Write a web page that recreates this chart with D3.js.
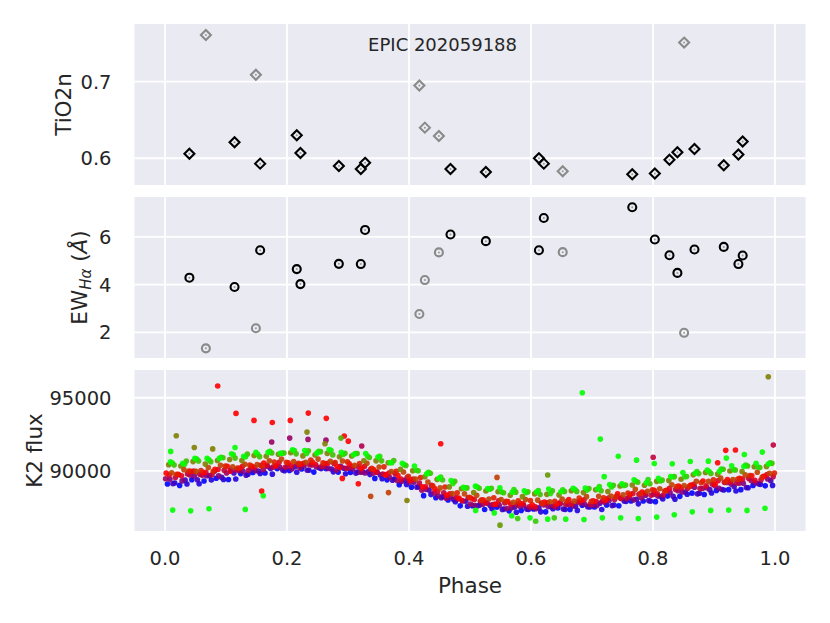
<!DOCTYPE html>
<html><head><meta charset="utf-8">
<script src="https://cdn.jsdelivr.net/npm/d3@7"></script>
<style>
body{margin:0;background:#fff}
text{font-family:"DejaVu Sans",sans-serif;fill:#262626}
</style>
</head><body>
<svg id="chart" width="830" height="623"></svg>
<script>
// ---------------- data ----------------
const starName = "EPIC 202059188";
const xTicks = [0.0, 0.2, 0.4, 0.6, 0.8, 1.0];
const tioTicks = [0.6, 0.7];
const ewTicks = [2, 4, 6];
const fluxTicks = [90000, 95000];

// spectra: phase, TiO2n index, H-alpha EW, 1 = used / 0 = rejected (grey)
const specPhase = [0.040,0.067,0.114,0.149,0.156,0.216,0.222,0.285,0.321,0.328,0.417,0.426,0.449,0.468,0.526,0.613,0.621,0.652,0.766,0.803,0.827,0.840,0.851,0.868,0.916,0.940,0.947];
const tio2n    = [0.606,0.761,0.621,0.709,0.593,0.630,0.607,0.590,0.586,0.594,0.695,0.640,0.629,0.586,0.582,0.600,0.593,0.583,0.579,0.580,0.598,0.608,0.751,0.612,0.591,0.605,0.622];
const ewHalpha = [4.29,1.33,3.90,2.17,5.44,4.65,4.02,4.87,4.86,6.29,2.77,4.19,5.35,6.10,5.82,5.44,6.79,5.36,7.24,5.89,5.23,4.49,1.98,5.47,5.58,4.86,5.22];
const specGood = [1,0,1,0,1,1,1,1,1,1,0,0,0,1,1,1,1,0,1,1,1,1,0,1,1,1,1];

// K2 light curve, folded; flux in thousands of counts, one array per cycle (colour = time)
const lcGrid = [0.00,0.02,0.04,0.06,0.08,0.10,0.12,0.14,0.16,0.18,0.20,0.22,0.24,0.26,0.28,0.30,0.32,0.34,0.36,0.38,0.40,0.42,0.44,0.46,0.48,0.50,0.52,0.54,0.56,0.58,0.60,0.62,0.64,0.66,0.68,0.70,0.72,0.74,0.76,0.78,0.80,0.82,0.84,0.86,0.88,0.90,0.92,0.94,0.96,0.98];
const cycleTime  = [0, 0.0625, 0.125, 0.25, 0.3125, 0.375, 0.4375, 0.5, 0.5625, 0.625, 0.75, 0.875, 0.9375, 1.0];
const cycleShift = [0.004, 0.016, 0.013, 0.008, 0.001, 0.017, 0.007, 0.002, 0.019, 0.011, 0.006, 0.015, 0.012, 0.009];
const lcCycle00 = [89.10,89.00,89.39,89.30,89.49,89.41,89.81,89.88,89.85,90.14,90.02,90.13,89.91,90.14,89.91,89.89,89.93,89.48,89.38,89.05,88.88,88.30,88.16,88.00,87.60,87.61,87.35,87.51,87.26,87.29,87.39,87.19,87.45,87.36,87.64,87.52,87.66,87.61,87.93,87.93,87.89,88.27,88.25,88.47,88.38,88.66,88.71,88.71,89.00,88.97];
const lcCycle01 = [89.17,89.10,89.11,89.37,89.40,89.44,89.77,89.82,89.77,90.01,89.90,90.04,90.15,89.93,89.80,89.91,89.74,89.46,89.44,89.06,88.91,88.37,88.24,87.88,87.57,87.66,87.40,87.39,87.16,87.35,87.19,87.41,87.35,87.29,87.52,87.35,87.66,87.91,87.74,87.92,88.07,88.05,88.40,88.46,88.48,88.69,88.62,88.84,89.07,89.00];
const lcCycle02 = [89.12,89.36,89.39,89.66,89.55,89.85,89.70,89.99,90.15,90.06,90.28,90.04,90.19,90.12,90.17,89.84,89.94,89.72,89.36,89.35,88.88,88.68,88.16,88.03,87.92,87.60,87.63,87.36,87.51,87.38,87.46,87.54,87.39,87.58,87.54,87.78,87.62,87.92,88.05,87.96,88.24,88.25,88.55,88.42,88.71,88.72,88.93,88.86,89.11,89.32];
const lcCycle03 = [89.42,89.31,89.65,89.67,89.66,90.05,89.96,90.01,90.29,90.25,90.12,90.34,90.27,90.16,90.30,90.12,89.85,89.90,89.55,89.27,89.22,88.73,88.29,88.20,87.93,87.63,87.79,87.64,87.46,87.62,87.41,87.55,87.74,87.59,87.71,87.63,87.96,88.11,88.01,88.33,88.27,88.51,88.55,88.88,88.84,88.80,89.09,89.15,89.17,89.44];
const lcCycle04 = [89.46,89.73,89.71,89.69,89.97,89.85,90.02,90.19,90.08,90.34,90.30,90.21,90.39,90.30,90.05,90.18,89.90,89.84,89.74,89.32,89.23,88.67,88.48,88.13,88.07,87.72,87.71,87.71,87.42,87.59,87.49,87.67,87.53,87.69,87.81,87.66,87.85,88.23,88.21,88.16,88.39,88.63,88.63,88.95,88.79,89.00,89.20,89.14,89.34,89.61];
const lcCycle05 = [89.54,89.79,89.76,89.73,90.03,90.08,90.03,90.38,90.25,90.24,90.45,90.41,90.30,90.50,90.18,90.27,90.11,89.78,89.81,89.53,89.16,89.00,88.50,88.17,88.16,87.92,87.69,87.80,87.69,87.53,87.79,87.60,87.71,87.88,87.70,87.93,88.03,88.10,88.40,88.32,88.34,88.72,88.81,88.79,89.10,89.21,89.18,89.48,89.37,89.60];
const lcCycle06 = [89.71,89.66,89.98,89.90,90.09,89.97,90.31,90.24,90.38,90.58,90.35,90.51,90.43,90.52,90.22,90.31,90.29,89.92,89.84,89.44,89.44,88.91,88.60,88.43,87.97,88.04,87.81,87.94,87.71,87.74,87.54,87.81,87.81,87.75,88.02,87.90,88.13,88.13,88.44,88.46,88.43,88.81,88.84,89.08,88.98,89.33,89.25,89.44,89.35,89.75];
const lcCycle07 = [89.84,89.76,89.97,89.88,90.10,90.30,90.17,90.33,90.53,90.34,90.55,90.45,90.59,90.50,90.31,90.48,90.15,90.09,89.71,89.68,89.36,88.91,88.78,88.33,88.13,88.12,87.99,87.70,87.89,87.78,87.67,87.87,87.72,88.03,87.97,87.94,88.01,88.43,88.37,88.55,88.67,88.66,88.96,89.03,89.30,89.10,89.41,89.48,89.66,89.63];
const lcCycle08 = [89.76,89.99,90.02,89.97,90.32,90.19,90.39,90.33,90.60,90.58,90.51,90.74,90.55,90.56,90.62,90.49,90.18,90.27,89.96,89.62,89.54,88.98,88.89,88.50,88.19,88.01,88.16,87.91,87.94,87.96,87.76,87.92,87.92,88.14,87.92,88.16,88.23,88.48,88.43,88.70,88.62,88.92,88.92,89.18,89.39,89.25,89.43,89.68,89.55,89.85];
const lcCycle09 = [89.87,90.08,89.96,90.22,90.38,90.27,90.45,90.42,90.68,90.80,90.63,90.59,90.80,90.65,90.67,90.38,90.51,90.26,89.95,89.92,89.44,89.23,88.83,88.44,88.42,88.33,88.07,88.04,87.85,88.04,87.99,87.88,88.06,87.93,88.23,88.26,88.28,88.36,88.73,88.60,88.77,89.05,88.99,89.28,89.29,89.50,89.40,89.72,89.90,89.83];
const lcCycle10 = [90.41,90.33,90.63,90.46,90.71,90.77,90.70,91.05,90.99,91.13,91.24,91.02,91.08,91.19,90.96,91.01,90.69,90.68,90.55,90.10,90.00,89.59,89.40,88.90,88.77,88.51,88.62,88.57,88.32,88.23,88.42,88.39,88.35,88.63,88.51,88.70,88.58,88.96,89.03,89.01,89.28,89.33,89.42,89.73,89.88,89.77,89.99,89.95,90.28,90.30];
const lcCycle11 = [90.39,90.67,90.67,90.62,90.89,90.87,91.14,90.97,91.22,91.22,91.16,91.37,91.31,91.09,91.20,91.18,90.91,90.68,90.71,90.36,90.00,89.83,89.37,89.28,88.83,88.81,88.80,88.50,88.54,88.56,88.37,88.64,88.58,88.59,88.79,88.64,89.01,89.03,89.22,89.11,89.36,89.60,89.61,89.81,89.82,90.11,90.06,90.33,90.23,90.51];
const lcCycle12 = [90.53,90.45,90.80,90.75,90.93,91.10,90.96,91.13,91.33,91.21,91.38,91.18,91.33,91.40,91.12,91.18,91.01,91.00,90.55,90.42,90.04,89.89,89.58,89.13,88.83,88.89,88.74,88.55,88.71,88.51,88.65,88.44,88.70,88.72,88.68,88.92,88.90,89.00,89.28,89.41,89.30,89.59,89.60,89.95,89.95,90.12,90.08,90.40,90.26,90.54];
const lcCycle13 = [90.61,90.52,90.85,90.85,90.85,91.16,91.00,91.26,91.26,91.20,91.44,91.39,91.21,91.45,91.27,91.10,91.18,90.95,90.57,90.52,90.33,89.79,89.48,89.33,88.87,88.95,88.79,88.83,88.53,88.64,88.55,88.75,88.57,88.80,88.82,88.75,89.06,89.11,89.38,89.18,89.48,89.60,89.88,89.83,90.05,89.96,90.34,90.29,90.51,90.46];

// isolated points: [phase, flux (k counts), time]
const lcOutliers = [
 [0.0864,95.80,0.5],[0.1164,93.93,0.5],[0.1459,93.45,0.5],[0.1759,93.31,0.5],[0.2054,93.45,0.5],
 [0.2349,93.95,0.5],[0.2644,93.59,0.5],[0.2939,92.38,0.5],[0.3005,92.03,0.5],[0.4520,91.85,0.5],
 [0.1749,91.97,0.3],[0.2044,92.24,0.3],[0.2344,92.15,0.3],[0.2639,92.10,0.3],[0.3225,91.70,0.35],
 [0.0185,92.40,0.75],[0.2328,92.65,0.75],[0.2623,91.85,0.75],[0.0480,91.60,0.75],[0.0782,91.50,0.75],
 [0.0093,91.33,1.0],[0.1148,91.60,1.0],[0.2885,92.24,0.85],[0.1585,88.61,0.5],[0.1611,88.29,1.0],
 [0.3169,89.11,0.5],[0.2907,89.48,0.5],[0.3372,88.25,0.62],[0.3664,88.51,0.62],[0.3967,87.97,0.75],
 [0.6841,95.34,1.0],[0.7136,92.17,1.0],[0.7431,90.99,1.0],[0.7730,90.73,1.0],[0.8021,90.50,1.0],
 [0.8316,90.48,1.0],[0.8611,90.64,1.0],[0.8907,90.66,1.0],[0.9202,90.87,1.0],[0.9497,91.12,1.0],
 [0.9792,91.28,1.0],[0.9890,96.44,0.75],[0.9972,91.76,0.38],[0.8003,90.93,0.38],[0.9192,91.40,0.5],
 [0.9352,91.42,0.5],[0.9060,90.55,0.5],[0.5443,89.55,0.62],[0.6274,89.71,0.8],[0.7200,89.60,1.0],
 [0.5492,86.28,0.8]
];
// thruster-firing dips: [phase, flux (k counts), time]
const lcDips = [
 [0.0126,87.31,1],[0.0421,87.26,1],[0.0721,87.40,1],[0.1316,87.36,1],[0.5093,87.29,1],[0.5398,87.12,1],
 [0.5684,86.92,1],[0.5984,86.78,1],[0.6274,86.69,1],[0.6569,86.69,1],[0.6869,86.67,1],[0.7169,86.78,1],
 [0.7470,86.78,1],[0.7759,86.74,1],[0.8061,86.83,1],[0.8349,86.99,1],[0.8644,87.19,1],[0.8946,87.29,1],
 [0.9241,87.31,1],[0.9541,87.29,1],[0.9836,87.44,1],[0.5782,86.74,0.9],[0.6077,86.55,0.9],[0.6382,86.78,0.9]
];

// ---------------- drawing ----------------
const svg = d3.select("#chart");
const BG = "#EAEAF2";
const left = 134.5, right = 805.5;
const panels = {
  top: {y0: 24, y1: 185},
  mid: {y0: 197, y1: 358},
  bot: {y0: 370, y1: 531}
};
const x = d3.scaleLinear().domain([-0.05, 1.05]).range([left, right]);
const yTio = d3.scaleLinear().domain([0.5651, 0.7753]).range([panels.top.y1, panels.top.y0]);
const yEw = d3.scaleLinear().domain([0.925, 7.67]).range([panels.mid.y1, panels.mid.y0]);
const yFlux = d3.scaleLinear().domain([85880, 96900]).range([panels.bot.y1, panels.bot.y0]);

function brg(t) {
  return t <= 0.5 ? d3.rgb(510 * t, 0, 255 * (1 - 2 * t)).formatHex()
                  : d3.rgb(255 * (2 - 2 * t), 255 * (2 * t - 1), 0).formatHex();
}

function panel(p, yScale, ticks, fmt, clipId) {
  const g = svg.append("g");
  g.append("rect").attr("x", left).attr("y", p.y0).attr("width", right - left).attr("height", p.y1 - p.y0).attr("fill", BG);
  svg.append("clipPath").attr("id", clipId).append("rect")
    .attr("x", left).attr("y", p.y0).attr("width", right - left).attr("height", p.y1 - p.y0);
  g.selectAll(".gx").data(xTicks).enter().append("line")
    .attr("x1", d => x(d)).attr("x2", d => x(d)).attr("y1", p.y0).attr("y2", p.y1)
    .attr("stroke", "#fff").attr("stroke-width", 1.8);
  g.selectAll(".gy").data(ticks).enter().append("line")
    .attr("x1", left).attr("x2", right).attr("y1", d => yScale(d)).attr("y2", d => yScale(d))
    .attr("stroke", "#fff").attr("stroke-width", 1.8);
  g.selectAll(".ty").data(ticks).enter().append("text")
    .attr("x", left - 23).attr("y", d => yScale(d)).attr("dy", "0.36em")
    .attr("text-anchor", "end").style("font-size", "19.5px").text(fmt);
  return g.append("g").attr("clip-path", `url(#${clipId})`);
}

const gTop = panel(panels.top, yTio, tioTicks, d3.format(".1f"), "cTop");
const gMid = panel(panels.mid, yEw, ewTicks, d3.format("d"), "cMid");
const gBot = panel(panels.bot, yFlux, fluxTicks, d3.format("d"), "cBot");

svg.selectAll(".tx").data(xTicks).enter().append("text")
  .attr("x", d => x(d)).attr("y", panels.bot.y1 + 34).attr("text-anchor", "middle")
  .style("font-size", "19.5px").text(d3.format(".1f"));

svg.append("text").attr("x", (left + right) / 2).attr("y", 593)
  .attr("text-anchor", "middle").style("font-size", "21.5px").text("Phase");
svg.append("text").attr("transform", `translate(71,${(panels.top.y0 + panels.top.y1) / 2}) rotate(-90)`)
  .attr("text-anchor", "middle").style("font-size", "21.5px").text("TiO2n");
const ewLab = svg.append("text").attr("transform", `translate(87,${(panels.mid.y0 + panels.mid.y1) / 2}) rotate(-90)`)
  .attr("text-anchor", "middle").style("font-size", "21.5px");
ewLab.append("tspan").text("EW");
ewLab.append("tspan").attr("dy", 4).style("font-size", "15px").style("font-style", "italic").text("Hα");
ewLab.append("tspan").attr("dy", -4).text(" (");
ewLab.append("tspan").style("font-style", "italic").text("Å");
ewLab.append("tspan").text(")");
svg.append("text").attr("transform", `translate(41.5,${(panels.bot.y0 + panels.bot.y1) / 2}) rotate(-90)`)
  .attr("text-anchor", "middle").style("font-size", "21.5px").text("K2 flux");

svg.append("text").attr("x", x(0.455)).attr("y", yTio(0.7405)).attr("text-anchor", "middle")
  .style("font-size", "18px").text(starName);

// spectra
const spec = specPhase.map((p, i) => ({p, tio: tio2n[i], ew: ewHalpha[i], good: specGood[i]}));
const edge = d => d.good ? "#000" : "#8a8a8a";
const s = 5;
gTop.selectAll(".dia").data(spec).enter().append("path")
  .attr("transform", d => `translate(${x(d.p)},${yTio(d.tio)})`)
  .attr("d", `M0,${-s}L${s},0L0,${s}L${-s},0Z`)
  .attr("fill", "none").attr("stroke", edge).attr("stroke-width", 2.1);
gTop.selectAll(".dd").data(spec).enter().append("circle")
  .attr("cx", d => x(d.p)).attr("cy", d => yTio(d.tio)).attr("r", 1)
  .attr("fill", "#9a9a9a");
gMid.selectAll(".cir").data(spec).enter().append("circle")
  .attr("cx", d => x(d.p)).attr("cy", d => yEw(d.ew)).attr("r", 4)
  .attr("fill", "none").attr("stroke", edge).attr("stroke-width", 2.1);
gMid.selectAll(".cd").data(spec).enter().append("circle")
  .attr("cx", d => x(d.p)).attr("cy", d => yEw(d.ew)).attr("r", 1)
  .attr("fill", "#9a9a9a");

// light curve
const cycles = [lcCycle00, lcCycle01, lcCycle02, lcCycle03, lcCycle04, lcCycle05, lcCycle06,
                lcCycle07, lcCycle08, lcCycle09, lcCycle10, lcCycle11, lcCycle12, lcCycle13];
const lcPts = [];
cycles.forEach((arr, c) => {
  arr.forEach((f, i) => lcPts.push({p: lcGrid[i] + cycleShift[c], f: f * 1000, t: cycleTime[c]}));
});
lcOutliers.forEach(d => lcPts.push({p: d[0], f: d[1] * 1000, t: d[2]}));
lcDips.forEach(d => lcPts.push({p: d[0], f: d[1] * 1000, t: d[2]}));
gBot.selectAll(".lc").data(lcPts).enter().append("circle")
  .attr("cx", d => x(d.p)).attr("cy", d => yFlux(d.f)).attr("r", 2.8)
  .attr("fill", d => brg(d.t)).attr("fill-opacity", 0.9);
</script>
</body></html>
